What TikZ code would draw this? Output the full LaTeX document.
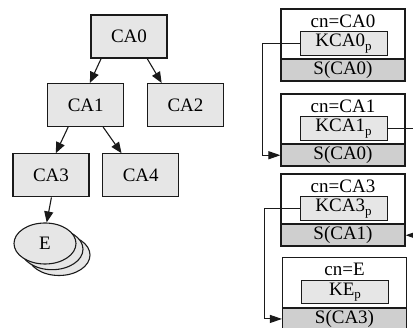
\documentclass[tikz,border=0pt]{standalone}
\usepackage{fontspec}
\setmainfont{Liberation Serif}
\usetikzlibrary{arrows.meta,shapes.geometric}
\definecolor{nodefill}{HTML}{E6E6E6}
\definecolor{stripfill}{HTML}{CFCFCF}
\definecolor{edgecol}{HTML}{1A1A1A}
% lowered subscript p for the key labels
\newcommand\subp{\raisebox{-0.4ex}{\fontsize{13}{13}\selectfont p}}

\begin{document}
\begin{tikzpicture}[x=1pt,y=-1pt,font=\fontsize{19}{21}\selectfont,
  treebox/.style={draw=edgecol,line width=1.1pt,fill=nodefill,minimum width=76pt,minimum height=43pt,inner sep=0pt},
  stackell/.style={ellipse,draw=edgecol,line width=1.1pt,fill=nodefill,minimum width=62pt,minimum height=41pt,inner sep=0pt},
  treearrow/.style={draw=edgecol,line width=1.1pt,-{Triangle[length=11pt,width=9pt]}},
  outerbox/.style={draw=edgecol,line width=1.1pt,fill=white,minimum width=124pt,minimum height=72pt,inner sep=0pt},
  stripbox/.style={draw=edgecol,line width=1.1pt,fill=stripfill,minimum width=124pt,minimum height=21.5pt,inner sep=0pt},
  keybox/.style={draw=edgecol,line width=1pt,fill=nodefill,minimum width=87pt,minimum height=23.3pt,inner sep=0pt},
  divide/.style={draw=edgecol,line width=2pt},
  link/.style={draw=edgecol,line width=1pt,-{Triangle[length=12pt,width=8pt]}}]
\useasboundingbox (0,0) rectangle (413,328);
\clip (0,0) rectangle (413,328);

% ---- tree of CAs ----
\node[treebox] (ca0) at (129,36.5) {CA0};
\node[treebox] (ca1) at (85.7,105) {CA1};
\node[treebox] (ca2) at (185.5,105) {CA2};
\node[treebox] (ca3) at (51,175.3) {CA3};
\node[treebox] (ca4) at (140.7,175.3) {CA4};

% stacked end entities
\node[stackell] (e3) at (59,255) {};
\node[stackell] (e2) at (52,249.2) {};
\node[stackell] (e) at (45,243.5) {E};

\draw[treearrow] ([xshift=10.7pt]ca0.south west) -- ([xshift=42.7pt]ca1.north west);
\draw[treearrow] ([xshift=56.7pt]ca0.south west) -- ([xshift=14.7pt]ca2.north west);
\draw[treearrow] ([xshift=21pt]ca1.south west) -- ([xshift=43.3pt]ca3.north west);
\draw[treearrow] ([xshift=56pt]ca1.south west) -- ([xshift=19.4pt]ca4.north west);
\draw[treearrow] ([xshift=39pt]ca3.south west) -- ([xshift=1.7pt]e.north);

% ---- certificate records ----
\foreach \i/\t/\dx/\cn/\k/\s in {1/9/0/CA0/KCA0/S(CA0),2/94/0/CA1/KCA1/S(CA0),3/174/0/CA3/KCA3/S(CA1),4/257.7/1.5/E/KE/S(CA3)}{
  \node[outerbox] (b\i) at (343+\dx,\t+36) {};
  \node[stripbox,anchor=south] (s\i) at (b\i.south) {\s};
  \draw[divide] (s\i.north west) -- (s\i.north east);
  \node[keybox] (k\i) at (343.5+\dx,\t+34.5) {\k\subp};
  \node[inner sep=0pt] (c\i) at (343+\dx,\t+12) {cn=\cn};
}

\draw[link] (k1.west) -- ++(-36.7,0) |- (s2.west);
\draw[link] (k2.east) -- ++(30,0) |- (s3.east);
\draw[link] (k3.west) -- ++(-35,0) |- (s4.west);
\end{tikzpicture}
\end{document}
